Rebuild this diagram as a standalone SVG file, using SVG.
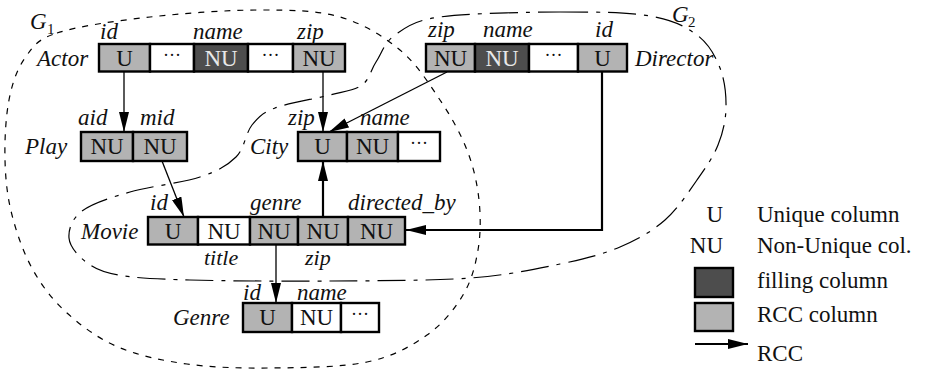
<svg xmlns="http://www.w3.org/2000/svg" width="925" height="372" viewBox="0 0 925 372">
  <style>
    text { font-family: "Liberation Serif", "Times New Roman", serif; font-size: 23px; fill: #111; }
    .lbl { font-style: italic; }
    .below { font-size: 22px; }
    .c { text-anchor: middle; }
    .dots { font-size: 18px; text-anchor: middle; }
    .on-dark { fill: #e8e8e8; }
    .sub { font-size: 15px; }
    .cell { stroke: #000; stroke-width: 2.4; }
    .rcc { fill: #b3b3b3; }
    .fill { fill: #4d4d4d; }
    .plain { fill: #fff; }
    .arrow { fill: none; stroke: #000; stroke-width: 1.3; marker-end: url(#head); }
    .arrow.thick { stroke-width: 2.2; }
    .g1 { fill: none; stroke: #000; stroke-width: 1.2; stroke-dasharray: 6 7; }
    .g2 { fill: none; stroke: #000; stroke-width: 1.2; stroke-dasharray: 28 8 4 8; }
  </style>
  <defs>
    <marker id="head" markerUnits="userSpaceOnUse" markerWidth="20" markerHeight="10" refX="20" refY="5" orient="auto">
      <path d="M0,0 L20,5 L0,10 Z" fill="#000"/>
    </marker>
  </defs>

  <!-- group outlines -->
  <g id="groups">
    <path id="group-g1" class="g1" d="M57,33 C77.8,26.2 116.2,20.8 150,17 C183.8,13.2 228.3,10 260,10 C291.7,10 316.7,10.3 340,17 C363.3,23.7 383.3,36.2 400,50 C416.7,63.8 428.8,83.3 440,100 C451.2,116.7 460.5,133.3 467,150 C473.5,166.7 477.2,183.3 479,200 C480.8,216.7 480.7,234.2 478,250 C475.3,265.8 471.5,280.8 463,295 C454.5,309.2 443,323.8 427,335 C411,346.2 393.2,356.5 367,362 C340.8,367.5 300,367.7 270,368 C240,368.3 212.3,367.5 187,364 C161.7,360.5 138,355.5 118,347 C98,338.5 81.2,325.8 67,313 C52.8,300.2 42.2,286.3 33,270 C23.8,253.7 16.7,233.3 12,215 C7.3,196.7 5.5,179.2 5,160 C4.5,140.8 5.7,117 9,100 C12.3,83 17,69.2 25,58 C33,46.8 36.2,39.8 57,33 Z"/>
    <path id="group-g2" class="g2" d="M560,12 C595,11.8 627.2,12.2 650,16 C672.8,19.8 685.3,26.3 697,35 C708.7,43.7 715.2,55.8 720,68 C724.8,80.2 726.3,95.2 726,108 C725.7,120.8 722.8,133 718,145 C713.2,157 705.8,167.5 697,180 C688.2,192.5 677.8,208.8 665,220 C652.2,231.2 637.5,239.7 620,247 C602.5,254.3 585,258.8 560,264 C535,269.2 508.3,275.2 470,278 C431.7,280.8 376.7,280.7 330,281 C283.3,281.3 225.3,281 190,280 C154.7,279 135.3,278 118,275 C100.7,272 94.2,268.2 86,262 C77.8,255.8 69.7,246.5 69,238 C68.3,229.5 71.8,218.7 82,211 C92.2,203.3 110.3,197.7 130,192 C149.7,186.3 182.3,182.8 200,177 C217.7,171.2 227.3,165.7 236,157 C244.7,148.3 245.5,133.2 252,125 C258.5,116.8 262,113 275,108 C288,103 315.5,98.8 330,95 C344.5,91.2 354.3,90.5 362,85 C369.7,79.5 370.5,70.3 376,62 C381.5,53.7 384.3,42.5 395,35 C405.7,27.5 412.5,20.8 440,17 C467.5,13.2 525,12.2 560,12 Z"/>
    <text class="lbl" x="30" y="29">G</text><text class="sub" x="47" y="34">1</text>
    <text class="lbl" x="672" y="22">G</text><text class="sub" x="688" y="27">2</text>
  </g>

  <!-- connectors -->
  <g id="connectors">
    <path class="arrow" d="M124,72 L124,132"/>
    <path class="arrow" d="M323,72 L323,132"/>
    <path class="arrow" d="M447,72 L329,132"/>
    <path class="arrow" d="M162,161 L184,217"/>
    <path class="arrow thick" d="M323,217 L323,161"/>
    <path class="arrow thick" d="M602,71 L602,230 L406,230"/>
    <path class="arrow" d="M276,244 L276,303"/>
  </g>

  <!-- Actor -->
  <g id="actor">
    <text class="lbl" x="37" y="66">Actor</text>
    <rect class="cell rcc" x="99" y="44" width="51" height="27.5"/>
    <rect class="cell plain" x="150" y="44" width="44" height="27.5"/>
    <rect class="cell fill" x="194" y="44" width="54" height="27.5"/>
    <rect class="cell plain" x="248" y="44" width="45" height="27.5"/>
    <rect class="cell rcc" x="293" y="44" width="52" height="27.5"/>
    <text class="c" x="124.5" y="66">U</text>
    <text class="dots" x="172" y="61">···</text>
    <text class="c on-dark" x="221" y="66">NU</text>
    <text class="dots" x="270.5" y="61">···</text>
    <text class="c" x="319" y="66">NU</text>
    <text class="lbl" x="100" y="39">id</text>
    <text class="lbl" x="193" y="39">name</text>
    <text class="lbl" x="297" y="39">zip</text>
  </g>

  <!-- Director -->
  <g id="director">
    <rect class="cell rcc" x="426" y="44" width="49" height="27.5"/>
    <rect class="cell fill" x="475" y="44" width="54" height="27.5"/>
    <rect class="cell plain" x="529" y="44" width="49" height="27.5"/>
    <rect class="cell rcc" x="578" y="44" width="49" height="27.5"/>
    <text class="c" x="450.5" y="66">NU</text>
    <text class="c on-dark" x="502" y="66">NU</text>
    <text class="dots" x="553.5" y="61">···</text>
    <text class="c" x="602.5" y="66">U</text>
    <text class="lbl" x="428" y="37">zip</text>
    <text class="lbl" x="483" y="37">name</text>
    <text class="lbl" x="595" y="37">id</text>
    <text class="lbl" x="635" y="66">Director</text>
  </g>

  <!-- Play -->
  <g id="play">
    <text class="lbl" x="25" y="154">Play</text>
    <rect class="cell rcc" x="81" y="132" width="52" height="29"/>
    <rect class="cell rcc" x="133" y="132" width="54" height="29"/>
    <text class="c" x="107" y="154">NU</text>
    <text class="c" x="160" y="154">NU</text>
    <text class="lbl" x="78" y="125">aid</text>
    <text class="lbl" x="140" y="125">mid</text>
  </g>

  <!-- City -->
  <g id="city">
    <text class="lbl" x="250" y="154">City</text>
    <rect class="cell rcc" x="298" y="132" width="49" height="29"/>
    <rect class="cell rcc" x="347" y="132" width="51" height="29"/>
    <rect class="cell plain" x="398" y="132" width="42" height="29"/>
    <text class="c" x="322.5" y="154">U</text>
    <text class="c" x="372.5" y="154">NU</text>
    <text class="dots" x="419" y="149">···</text>
    <text class="lbl" x="288" y="125">zip</text>
    <text class="lbl" x="360" y="125">name</text>
  </g>

  <!-- Movie -->
  <g id="movie">
    <text class="lbl" x="81" y="239">Movie</text>
    <rect class="cell rcc" x="148" y="217" width="50" height="27.5"/>
    <rect class="cell plain" x="198" y="217" width="52" height="27.5"/>
    <rect class="cell rcc" x="250" y="217" width="48" height="27.5"/>
    <rect class="cell rcc" x="298" y="217" width="50" height="27.5"/>
    <rect class="cell rcc" x="348" y="217" width="57" height="27.5"/>
    <text class="c" x="173" y="239">U</text>
    <text class="c" x="224" y="239">NU</text>
    <text class="c" x="274" y="239">NU</text>
    <text class="c" x="323" y="239">NU</text>
    <text class="c" x="376.5" y="239">NU</text>
    <text class="lbl" x="150" y="210">id</text>
    <text class="lbl" x="250" y="210">genre</text>
    <text class="lbl" x="348" y="210">directed_by</text>
    <text class="lbl below" x="204" y="265">title</text>
    <text class="lbl below" x="305" y="265">zip</text>
  </g>

  <!-- Genre -->
  <g id="genre">
    <text class="lbl" x="173" y="325">Genre</text>
    <rect class="cell rcc" x="243" y="303" width="49" height="29"/>
    <rect class="cell plain" x="292" y="303" width="49" height="29"/>
    <rect class="cell plain" x="341" y="303" width="38" height="29"/>
    <text class="c" x="267.5" y="325">U</text>
    <text class="c" x="316.5" y="325">NU</text>
    <text class="dots" x="360" y="320">···</text>
    <text class="lbl" x="243" y="300">id</text>
    <text class="lbl" x="297" y="300">name</text>
  </g>

  <!-- legend -->
  <g id="legend">
    <text x="723" y="222" text-anchor="end">U</text>
    <text x="757" y="222">Unique column</text>
    <text x="723" y="253" text-anchor="end">NU</text>
    <text x="757" y="253">Non-Unique col.</text>
    <rect class="cell fill" x="695" y="268" width="38" height="29"/>
    <text x="757" y="288">filling column</text>
    <rect class="cell rcc" x="695" y="303" width="38" height="28"/>
    <text x="757" y="322">RCC column</text>
    <path class="arrow thick" d="M695,344 L748,344"/>
    <text x="757" y="361">RCC</text>
  </g>
</svg>
